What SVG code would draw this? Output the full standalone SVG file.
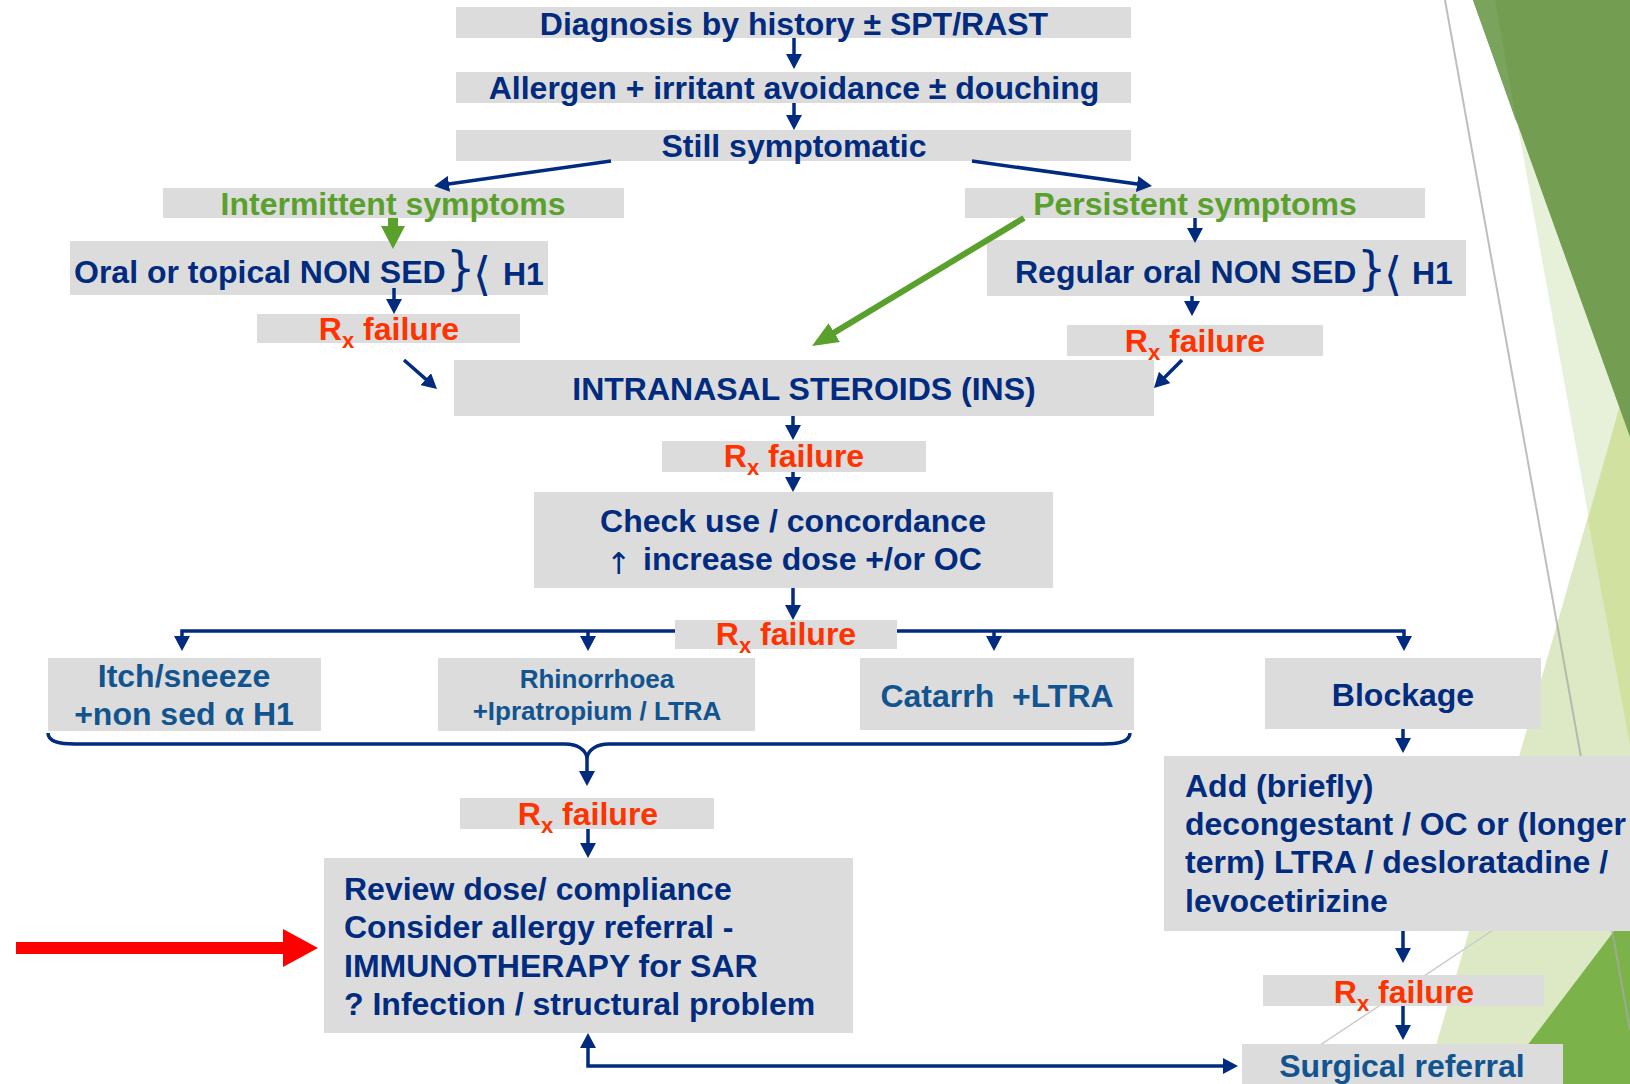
<svg xmlns="http://www.w3.org/2000/svg" width="1630" height="1084" viewBox="0 0 1630 1084">
<style>
.box{fill:#dcdcdc}
.t{font-family:"Liberation Sans",Arial,sans-serif;font-weight:bold;font-size:32px;fill:#002b7f}
.g{fill:#5aa02c}
.r{fill:#ff3300}
.m{fill:#12548f}
.c{text-anchor:middle}
.sm{font-size:26px}
.sym{font-family:"DejaVu Sans","Liberation Sans",sans-serif;font-weight:normal;fill:#002b7f}
.ln{stroke:#002b7f;stroke-width:3.5;fill:none}
.gl{stroke:#5aa02c;fill:none}
</style>
<defs>
<marker id="ah" viewBox="0 0 15 16" refX="11" refY="8" markerWidth="15" markerHeight="16" markerUnits="userSpaceOnUse" orient="auto-start-reverse"><path d="M0,0 L15,8 L0,16 z" fill="#002b7f"/></marker>
<marker id="gh" viewBox="0 0 23 24" refX="12" refY="12" markerWidth="23" markerHeight="24" markerUnits="userSpaceOnUse" orient="auto"><path d="M0,0 L23,12 L0,24 z" fill="#5aa02c"/></marker>
<marker id="gh2" viewBox="0 0 26 22" refX="19" refY="11" markerWidth="26" markerHeight="22" markerUnits="userSpaceOnUse" orient="auto"><path d="M0,0 L26,11 L0,22 z" fill="#5aa02c"/></marker>
</defs>
<rect width="1630" height="1084" fill="#ffffff"/>
<g id="decor">
<polygon points="1495,0 1630,0 1630,745" fill="#e7f0d8"/>
<polygon points="1630,370 1630,1084 1425,1084" fill="#dde9c4"/>
<polygon points="1630,370 1588,520 1630,745" fill="#d0e1a0"/>
<polygon points="1630,910 1630,1084 1498,1084" fill="#7bb24a"/>
<polygon points="1473,0 1630,0 1630,437" fill="#739d51"/>
<polygon points="1473,0 1495,0 1517,124" fill="#7aa45d"/>
<line x1="1445" y1="0" x2="1630" y2="1030" stroke="#a8a8a8" stroke-opacity="0.75" stroke-width="2"/>
<line x1="1630" y1="839" x2="1200" y2="1125" stroke="#cccccc" stroke-width="1.5"/>
</g>
<g id="n-diagnosis"><rect class="box" x="456" y="7" width="675" height="31"/><text class="t c" x="794" y="35">Diagnosis by history ± SPT/RAST</text></g>
<g id="n-avoidance"><rect class="box" x="456" y="72" width="675" height="31"/><text class="t c" x="794" y="99">Allergen + irritant avoidance ± douching</text></g>
<g id="n-still"><rect class="box" x="456" y="130" width="675" height="31"/><text class="t c" x="794" y="157">Still symptomatic</text></g>
<g id="n-intermittent"><rect class="box" x="163" y="188" width="461" height="30"/><text class="t g c" x="393" y="215">Intermittent symptoms</text></g>
<g id="n-persistent"><rect class="box" x="965" y="188" width="460" height="30"/><text class="t g c" x="1195" y="215">Persistent symptoms</text></g>
<g id="n-oral"><rect class="box" x="70" y="241" width="478" height="54"/><text class="t" x="74" y="283">Oral or topical NON SED</text><text class="sym" x="446" y="284" font-size="46">}</text><text class="sym" x="473" y="290" font-size="46">⟨</text><text class="t" x="503" y="285">H1</text></g>
<g id="n-regular"><rect class="box" x="987" y="240" width="479" height="56"/><text class="t" x="1015" y="283">Regular oral NON SED</text><text class="sym" x="1357" y="284" font-size="46">}</text><text class="sym" x="1384" y="290" font-size="46">⟨</text><text class="t" x="1412" y="284">H1</text></g>
<g id="n-fail1"><rect class="box" x="257" y="314" width="263" height="29"/><text class="t r c" x="389" y="340">R<tspan font-size="22" dy="8">x</tspan><tspan dy="-8"> failure</tspan></text></g>
<g id="n-fail2"><rect class="box" x="1067" y="325" width="256" height="31"/><text class="t r c" x="1195" y="352">R<tspan font-size="22" dy="8">x</tspan><tspan dy="-8"> failure</tspan></text></g>
<g id="n-ins"><rect class="box" x="454" y="360" width="700" height="56"/><text class="t c" x="804" y="400">INTRANASAL STEROIDS (INS)</text></g>
<g id="n-fail3"><rect class="box" x="662" y="441" width="264" height="31"/><text class="t r c" x="794" y="467">R<tspan font-size="22" dy="8">x</tspan><tspan dy="-8"> failure</tspan></text></g>
<g id="n-check"><rect class="box" x="534" y="492" width="519" height="96"/><text class="t c" x="793" y="532">Check use / concordance</text><text class="t"><tspan class="sym" x="606" y="574" font-size="30">↑</tspan><tspan x="643" y="570">increase dose +/or OC</tspan></text></g>
<g id="n-fail4"><rect class="box" x="675" y="620" width="222" height="29"/><text class="t r c" x="786" y="645">R<tspan font-size="22" dy="8">x</tspan><tspan dy="-8"> failure</tspan></text></g>
<g id="n-itch"><rect class="box" x="48" y="658" width="273" height="73"/><text class="t m c" x="184" y="687">Itch/sneeze</text><text class="t m c" x="184" y="725">+non sed α H1</text></g>
<g id="n-rhino"><rect class="box" x="438" y="658" width="317" height="73"/><text class="t m c sm" x="597" y="688">Rhinorrhoea</text><text class="t m c sm" x="597" y="720">+Ipratropium / LTRA</text></g>
<g id="n-catarrh"><rect class="box" x="860" y="658" width="274" height="72"/><text class="t m c" x="997" y="707" xml:space="preserve">Catarrh  +LTRA</text></g>
<g id="n-blockage"><rect class="box" x="1265" y="658" width="276" height="71"/><text class="t c" x="1403" y="706">Blockage</text></g>
<g id="n-add"><rect class="box" x="1164" y="756" width="470" height="175"/><text class="t" x="1185" y="797">Add (briefly)</text><text class="t" x="1185" y="835">decongestant / OC or (longer</text><text class="t" x="1185" y="873">term) LTRA / desloratadine /</text><text class="t" x="1185" y="912">levocetirizine</text></g>
<g id="n-fail5"><rect class="box" x="460" y="798" width="254" height="31"/><text class="t r c" x="588" y="825">R<tspan font-size="22" dy="8">x</tspan><tspan dy="-8"> failure</tspan></text></g>
<g id="n-review"><rect class="box" x="324" y="858" width="529" height="175"/><text class="t" x="344" y="900">Review dose/ compliance</text><text class="t" x="344" y="938">Consider allergy referral -</text><text class="t" x="344" y="977">IMMUNOTHERAPY for SAR</text><text class="t" x="344" y="1015">? Infection / structural problem</text></g>
<g id="n-fail6"><rect class="box" x="1263" y="975" width="281" height="31"/><text class="t r c" x="1404" y="1003">R<tspan font-size="22" dy="8">x</tspan><tspan dy="-8"> failure</tspan></text></g>
<g id="n-surgical"><rect class="box" x="1242" y="1044" width="321" height="45"/><text class="t m c" x="1402" y="1077">Surgical referral</text></g>
<g id="connectors">
<path class="ln" d="M794,38 V65" marker-end="url(#ah)"/>
<path class="ln" d="M794,103 V126" marker-end="url(#ah)"/>
<path class="ln" d="M611,161 L438,185.4" marker-end="url(#ah)"/>
<path class="ln" d="M972,161 L1148,185.5" marker-end="url(#ah)"/>
<path class="gl" stroke-width="10" d="M393,218 V238" marker-end="url(#gh)"/>
<path class="gl" stroke-width="6" d="M1024,218 L818,342.4" marker-end="url(#gh2)"/>
<path class="ln" d="M1195,218 V239" marker-end="url(#ah)"/>
<path class="ln" d="M394,288 V310" marker-end="url(#ah)"/>
<path class="ln" d="M1192,296 V312" marker-end="url(#ah)"/>
<path class="ln" d="M404,360 L434,386.4" marker-end="url(#ah)"/>
<path class="ln" d="M1182,360 L1156.8,385.2" marker-end="url(#ah)"/>
<path class="ln" d="M793,416 V436" marker-end="url(#ah)"/>
<path class="ln" d="M793,472 V488" marker-end="url(#ah)"/>
<path class="ln" d="M793,588 V616" marker-end="url(#ah)"/>
<path class="ln" stroke-width="4" d="M675,631 H182 V647" marker-end="url(#ah)"/>
<path class="ln" stroke-width="4" d="M897,631 H1404 V647" marker-end="url(#ah)"/>
<path class="ln" d="M588,631 V647" marker-end="url(#ah)"/>
<path class="ln" d="M994,631 V647" marker-end="url(#ah)"/>
<path class="ln" stroke-width="4" d="M48,733 C48,742 60,744 75,744 L565,744 C578,744 585,750 587,757 C589,750 596,744 609,744 L1103,744 C1118,744 1130,742 1130,733"/>
<path class="ln" d="M587,757 V782" marker-end="url(#ah)"/>
<path class="ln" d="M588,829 V854" marker-end="url(#ah)"/>
<path class="ln" d="M1403,729 V749" marker-end="url(#ah)"/>
<path class="ln" d="M1403,931 V959" marker-end="url(#ah)"/>
<path class="ln" d="M1403,1006 V1036" marker-end="url(#ah)"/>
<path class="ln" stroke-width="4" d="M588,1037 V1066 H1234" marker-start="url(#ah)" marker-end="url(#ah)"/>
<polygon points="16,942 283,942 283,929 318,948 283,967 283,954 16,954" fill="#ff0000"/>
</g>
</svg>
